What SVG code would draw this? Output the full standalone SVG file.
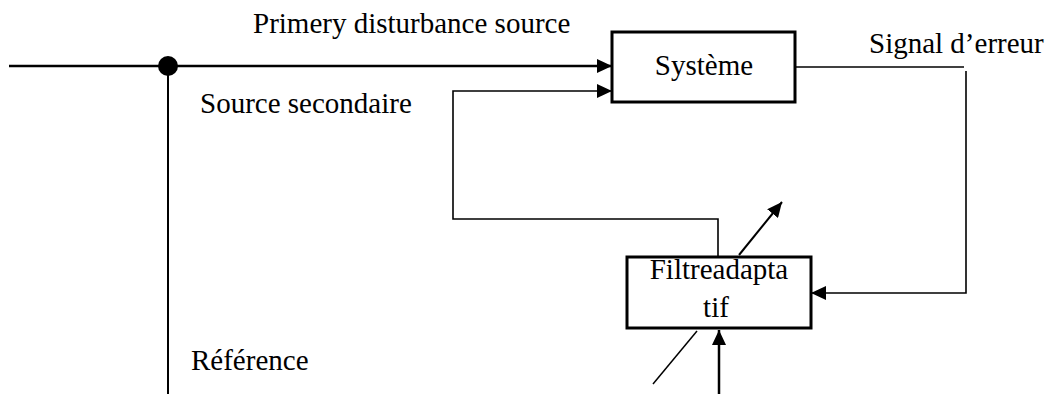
<svg xmlns="http://www.w3.org/2000/svg" width="1049" height="394" viewBox="0 0 1049 394">
  <style>
    .lbl { font-family: "Liberation Serif", "Times New Roman", serif; font-size: 29px; fill: #000; }
    .box { fill: #fff; stroke: #000; stroke-width: 3; }
    .w { fill: none; stroke: #000; stroke-linecap: butt; stroke-linejoin: miter; }
  </style>
  <defs>
    <marker id="ah" markerUnits="userSpaceOnUse" markerWidth="15" markerHeight="14" refX="15" refY="7" orient="auto">
      <path d="M0,0 L15,7 L0,14 z" fill="#000"/>
    </marker>
  </defs>
  <g id="connectors">
    <path class="w" d="M9,66 H612" stroke-width="2.5" marker-end="url(#ah)"/>
    <path class="w" d="M168,66 V394" stroke-width="2"/>
    <path class="w" d="M718,257 V219 H453 V91 H612" stroke-width="1.6" marker-end="url(#ah)"/>
    <path class="w" d="M795,67 H964" stroke-width="1.5"/>
    <path class="w" d="M966,71 V293 H811" stroke-width="1.6" marker-end="url(#ah)"/>
    <path class="w" d="M719,394 V330" stroke-width="2.5" marker-end="url(#ah)"/>
    <path class="w" d="M739,255 L782,202" stroke-width="2" marker-end="url(#ah)"/>
    <path class="w" d="M697,331 L653,384" stroke-width="1.5"/>
  </g>
  <g id="junction">
    <circle cx="168" cy="66" r="10" fill="#000"/>
  </g>
  <g id="systeme">
    <rect class="box" x="612" y="32" width="183" height="70"/>
    <text class="lbl" x="704" y="75" text-anchor="middle">Système</text>
  </g>
  <g id="filtre">
    <rect class="box" x="627" y="257" width="184" height="71" stroke-width="3.5"/>
    <text class="lbl" x="719" y="279" text-anchor="middle">Filtreadapta</text>
    <text class="lbl" x="716" y="317" text-anchor="middle">tif</text>
  </g>
  <g id="labels">
    <text class="lbl" x="253" y="33">Primery disturbance source</text>
    <text class="lbl" x="200" y="113">Source secondaire</text>
    <text class="lbl" x="869" y="53">Signal d’erreur</text>
    <text class="lbl" x="191" y="370">Référence</text>
  </g>
</svg>
